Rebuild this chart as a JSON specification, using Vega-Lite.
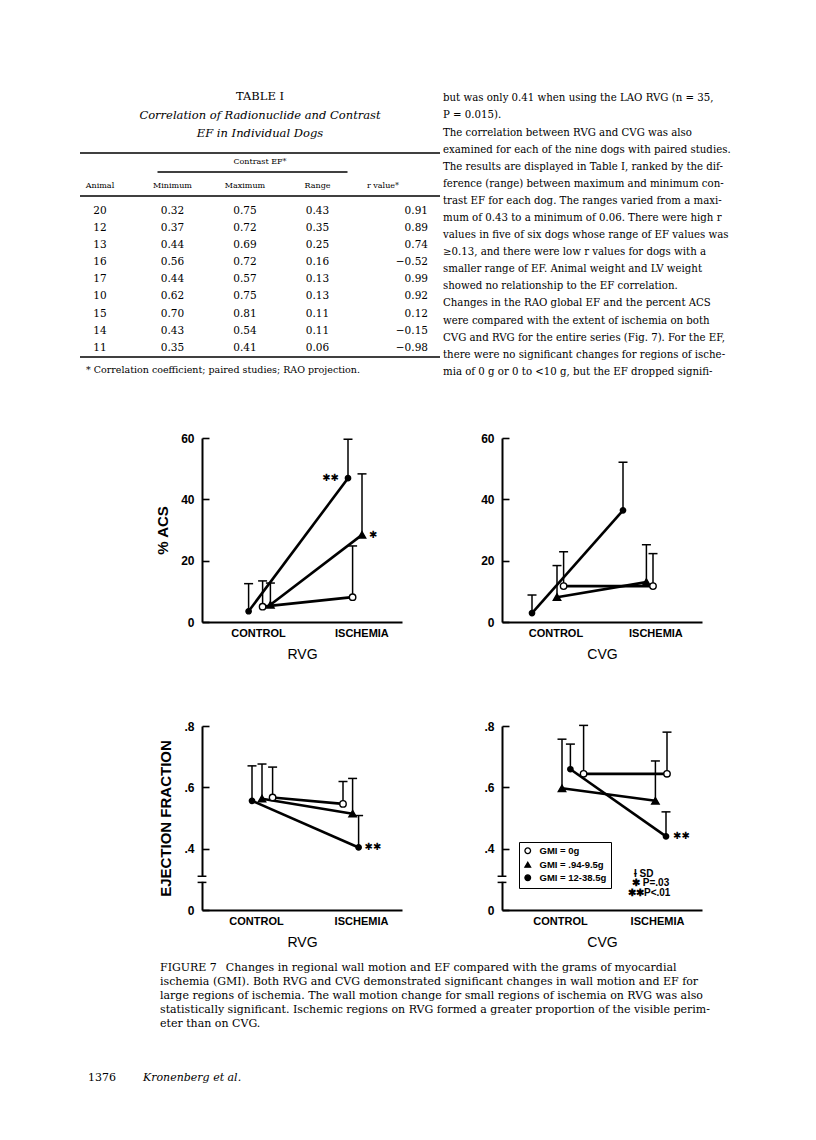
{
 "$schema": "https://vega.github.io/schema/vega-lite/v6.json",
 "background": "white",
 "padding": 0,
 "spacing": -6,
 "config": {
  "view": {"stroke": null},
  "text": {"font": "DejaVu Serif", "fontSize": 10.2, "color": "black", "baseline": "middle"},
  "rule": {"color": "black"},
  "axis": {"grid": false, "domainColor": "black", "domainWidth": 2, "tickColor": "black", "tickWidth": 1.6, "labelColor": "black", "titleColor": "black", "labelFont": "Liberation Sans", "titleFont": "Liberation Sans", "labelFontWeight": "bold", "labelFlush": false},
  "axisX": {"ticks": false, "labelFontSize": 11, "labelPadding": 5, "labelAngle": 0, "titleFontSize": 14, "titleFontWeight": "normal", "titlePadding": 9},
  "axisY": {"tickSize": -7, "labelFontSize": 12, "labelPadding": 15, "titleFontSize": 15, "titleFontWeight": "bold", "titlePadding": 10}
 },
 "datasets": {
  "para": [
   {"line": 1, "t": "but was only 0.41 when using the LAO RVG (n = 35,"},
   {"line": 2, "t": "P = 0.015)."},
   {"line": 3, "t": "\u2003The correlation between RVG and CVG was also"},
   {"line": 4, "t": "examined for each of the nine dogs with paired studies."},
   {"line": 5, "t": "The results are displayed in Table I, ranked by the dif-"},
   {"line": 6, "t": "ference (range) between maximum and minimum con-"},
   {"line": 7, "t": "trast EF for each dog. The ranges varied from a maxi-"},
   {"line": 8, "t": "mum of 0.43 to a minimum of 0.06. There were high r"},
   {"line": 9, "t": "values in five of six dogs whose range of EF values was"},
   {"line": 10, "t": "\u22650.13, and there were low r values for dogs with a"},
   {"line": 11, "t": "smaller range of EF. Animal weight and LV weight"},
   {"line": 12, "t": "showed no relationship to the EF correlation."},
   {"line": 13, "t": "\u2003Changes in the RAO global EF and the percent ACS"},
   {"line": 14, "t": "were compared with the extent of ischemia on both"},
   {"line": 15, "t": "CVG and RVG for the entire series (Fig. 7). For the EF,"},
   {"line": 16, "t": "there were no significant changes for regions of ische-"},
   {"line": 17, "t": "mia of 0 g or 0 to <10 g, but the EF dropped signifi-"}
  ],
  "tbl": [
   {"rank": 1, "animal": "20", "min": "0.32", "max": "0.75", "range": "0.43", "r": "0.91"},
   {"rank": 2, "animal": "12", "min": "0.37", "max": "0.72", "range": "0.35", "r": "0.89"},
   {"rank": 3, "animal": "13", "min": "0.44", "max": "0.69", "range": "0.25", "r": "0.74"},
   {"rank": 4, "animal": "16", "min": "0.56", "max": "0.72", "range": "0.16", "r": "\u22120.52"},
   {"rank": 5, "animal": "17", "min": "0.44", "max": "0.57", "range": "0.13", "r": "0.99"},
   {"rank": 6, "animal": "10", "min": "0.62", "max": "0.75", "range": "0.13", "r": "0.92"},
   {"rank": 7, "animal": "15", "min": "0.70", "max": "0.81", "range": "0.11", "r": "0.12"},
   {"rank": 8, "animal": "14", "min": "0.43", "max": "0.54", "range": "0.11", "r": "\u22120.15"},
   {"rank": 9, "animal": "11", "min": "0.35", "max": "0.41", "range": "0.06", "r": "\u22120.98"}
  ],
  "hdr": [
   {"col": "animal", "label": "Animal"},
   {"col": "min", "label": "Minimum"},
   {"col": "max", "label": "Maximum"},
   {"col": "range", "label": "Range"},
   {"col": "r", "label": "r value*"}
  ],
  "caption": [
   {"line": 1, "t": "FIGURE 7\u2002 Changes in regional wall motion and EF compared with the grams of myocardial"},
   {"line": 2, "t": "ischemia (GMI). Both RVG and CVG demonstrated significant changes in wall motion and EF for"},
   {"line": 3, "t": "large regions of ischemia. The wall motion change for small regions of ischemia on RVG was also"},
   {"line": 4, "t": "statistically significant. Ischemic regions on RVG formed a greater proportion of the visible perim-"},
   {"line": 5, "t": "eter than on CVG."}
  ],
  "pts": [
   {"panel": "A", "grp": "fill", "pos": 23.3, "v": 3.5, "hi": 12.5},
   {"panel": "A", "grp": "0g", "pos": 30.3, "v": 5.0, "hi": 13.4},
   {"panel": "A", "grp": "tri", "pos": 34.2, "v": 5.6, "hi": 12.7},
   {"panel": "A", "grp": "fill", "pos": 73, "v": 46.9, "hi": 59.6, "sig": "\u2731\u2731"},
   {"panel": "A", "grp": "0g", "pos": 75.3, "v": 8.1, "hi": 24.8},
   {"panel": "A", "grp": "tri", "pos": 80, "v": 28.4, "hi": 48.3, "sig": "\u2731"},
   {"panel": "B", "grp": "fill", "pos": 15, "v": 2.9, "hi": 8.8},
   {"panel": "B", "grp": "tri", "pos": 27.5, "v": 8.1, "hi": 18.4},
   {"panel": "B", "grp": "0g", "pos": 30.8, "v": 11.7, "hi": 22.9},
   {"panel": "B", "grp": "fill", "pos": 60.5, "v": 36.4, "hi": 52.1},
   {"panel": "B", "grp": "tri", "pos": 72.2, "v": 13.0, "hi": 25.2},
   {"panel": "B", "grp": "0g", "pos": 75.5, "v": 11.7, "hi": 22.3},
   {"panel": "C", "grp": "fill", "pos": 25, "v": 0.556, "hi": 0.670},
   {"panel": "C", "grp": "tri", "pos": 30, "v": 0.563, "hi": 0.676},
   {"panel": "C", "grp": "0g", "pos": 35.3, "v": 0.567, "hi": 0.666},
   {"panel": "C", "grp": "0g", "pos": 70.5, "v": 0.546, "hi": 0.619},
   {"panel": "C", "grp": "tri", "pos": 75.3, "v": 0.514, "hi": 0.629},
   {"panel": "C", "grp": "fill", "pos": 78.3, "v": 0.404, "hi": 0.508, "sig": "\u2731\u2731"},
   {"panel": "D", "grp": "tri", "pos": 30, "v": 0.597, "hi": 0.757},
   {"panel": "D", "grp": "fill", "pos": 34.2, "v": 0.659, "hi": 0.741},
   {"panel": "D", "grp": "0g", "pos": 40.8, "v": 0.644, "hi": 0.802},
   {"panel": "D", "grp": "tri", "pos": 76.7, "v": 0.556, "hi": 0.686},
   {"panel": "D", "grp": "fill", "pos": 82, "v": 0.44, "hi": 0.52, "sig": "\u2731\u2731"},
   {"panel": "D", "grp": "0g", "pos": 82.5, "v": 0.644, "hi": 0.78}
  ]
 },
 "resolve": {"scale": {"shape": "independent", "fill": "independent", "size": "independent", "stroke": "independent"}, "legend": {"shape": "independent", "fill": "independent", "size": "independent", "stroke": "independent"}},
 "vconcat": [
  {
   "spacing": 0,
   "bounds": "flush",
   "resolve": {"scale": {"shape": "independent", "fill": "independent", "size": "independent"}},
   "hconcat": [
    {"width": 80, "height": 438, "data": {"values": []}, "mark": "text", "encoding": {}},
    {
     "width": 360, "height": 438,
     "layer": [
      {"data": {"values": [{"t": "TABLE I"}]}, "mark": {"type": "text", "fontSize": 11.5},
       "encoding": {"y": {"datum": -5.667, "scale": {"domain": [-11.339, 14.275], "reverse": true, "nice": false, "zero": false}, "axis": null}, "text": {"field": "t"}}},
      {"data": {"values": [{"t": "Correlation of Radionuclide and Contrast"}]}, "mark": {"type": "text", "fontSize": 11.5, "fontStyle": "italic"},
       "encoding": {"y": {"datum": -4.556, "axis": null}, "text": {"field": "t"}}},
      {"data": {"values": [{"t": "EF in Individual Dogs"}]}, "mark": {"type": "text", "fontSize": 11.5, "fontStyle": "italic"},
       "encoding": {"y": {"datum": -3.503, "axis": null}, "text": {"field": "t"}}},
      {"data": {"values": [{}]}, "mark": {"type": "rule", "strokeWidth": 1.6},
       "encoding": {"y": {"datum": -2.392, "axis": null}}},
      {"data": {"values": [{"t": "Contrast EF*"}]}, "mark": {"type": "text", "fontSize": 8},
       "encoding": {"y": {"datum": -1.865, "axis": null}, "text": {"field": "t"}}},
      {"data": {"values": [{}]}, "mark": {"type": "rule", "strokeWidth": 1.3, "xOffset": -15, "x2Offset": 30},
       "encoding": {"x": {"datum": "min", "type": "nominal", "scale": {"type": "point", "domain": ["animal", "min", "max", "range", "r"], "range": [20, 310], "padding": 0}, "axis": null}, "x2": {"datum": "range"}, "y": {"datum": -1.281, "axis": null}}},
      {"data": {"name": "hdr"}, "transform": [{"filter": "datum.col != 'r'"}], "mark": {"type": "text", "fontSize": 8},
       "encoding": {"x": {"field": "col", "type": "nominal", "axis": null}, "y": {"datum": -0.462, "axis": null}, "text": {"field": "label"}}},
      {"data": {"name": "hdr"}, "transform": [{"filter": "datum.col == 'r'"}], "mark": {"type": "text", "fontSize": 8, "dx": -7},
       "encoding": {"x": {"field": "col", "type": "nominal", "axis": null}, "y": {"datum": -0.462, "axis": null}, "text": {"field": "label"}}},
      {"data": {"values": [{}]}, "mark": {"type": "rule", "strokeWidth": 1.3},
       "encoding": {"y": {"datum": 0.123, "axis": null}}},
      {"data": {"name": "tbl"}, "transform": [{"fold": ["animal", "min", "max", "range"], "as": ["col", "val"]}],
       "mark": {"type": "text", "fontSize": 10.5},
       "encoding": {"x": {"field": "col", "type": "nominal", "axis": null}, "y": {"field": "rank", "type": "quantitative", "axis": null}, "text": {"field": "val"}}},
      {"data": {"name": "tbl"}, "mark": {"type": "text", "fontSize": 10.5, "align": "right", "dx": 38},
       "encoding": {"x": {"datum": "r", "type": "nominal", "axis": null}, "y": {"field": "rank", "type": "quantitative", "axis": null}, "text": {"field": "r"}}},
      {"data": {"values": [{}]}, "mark": {"type": "rule", "strokeWidth": 1.6},
       "encoding": {"y": {"datum": 9.538, "axis": null}}},
      {"data": {"values": [{"t": "* Correlation coefficient; paired studies; RAO projection."}]}, "mark": {"type": "text", "fontSize": 9.5, "align": "left", "dx": -14},
       "encoding": {"x": {"datum": "animal", "type": "nominal", "axis": null}, "y": {"datum": 10.298, "axis": null}, "text": {"field": "t"}}}
     ]
    },
    {
     "width": 376, "height": 438,
     "data": {"name": "para"},
     "mark": {"type": "text", "align": "left"},
     "encoding": {
      "x": {"datum": 3, "scale": {"domain": [0, 376], "nice": false, "zero": false}, "axis": null},
      "y": {"field": "line", "type": "quantitative", "scale": {"domain": [-4.749, 20.866], "reverse": true, "nice": false, "zero": false}, "axis": null},
      "text": {"field": "t"}
     }
    }
   ]
  },
  {
   "spacing": 100,
   "bounds": "flush",
   "resolve": {"scale": {"shape": "independent", "fill": "independent", "size": "independent", "stroke": "independent"}, "legend": {"shape": "independent", "fill": "independent", "size": "independent", "stroke": "independent"}},
   "hconcat": [
    {"width": 102, "height": 288, "data": {"values": []}, "mark": "text", "encoding": {}},
    {
     "width": 200, "height": 184,
     "data": {"name": "pts"},
     "encoding": {"x": {"field": "pos", "type": "quantitative", "title": "RVG", "scale": {"domain": [0, 100], "nice": false, "zero": false}, "axis": {"values": [28, 79.7], "labelExpr": "datum.value < 50 ? 'CONTROL' : 'ISCHEMIA'"}}},
     "layer": [
      {"transform": [{"filter": "datum.panel == 'A'"}], "mark": {"type": "rule", "strokeWidth": 1.5, "color": "black"},
       "encoding": {"y": {"field": "v", "type": "quantitative", "title": "% ACS", "scale": {"domain": [0, 60], "nice": false, "zero": false}, "axis": {"values": [0, 20, 40, 60]}}, "y2": {"field": "hi"}}},
      {"transform": [{"filter": "datum.panel == 'A'"}], "mark": {"type": "tick", "orient": "horizontal", "size": 9, "thickness": 1.5, "color": "black", "opacity": 1},
       "encoding": {"y": {"field": "hi", "type": "quantitative", "title": "% ACS"}}},
      {"transform": [{"filter": "datum.panel == 'A'"}], "mark": {"type": "line", "strokeWidth": 2.6, "color": "black"},
       "encoding": {"y": {"field": "v", "type": "quantitative", "title": "% ACS"}, "detail": {"field": "grp"}, "order": {"field": "pos"}}},
      {"transform": [{"filter": "datum.panel == 'A'"}], "mark": {"type": "point", "stroke": "black", "strokeWidth": 1.4, "opacity": 1},
       "encoding": {
        "y": {"field": "v", "type": "quantitative", "title": "% ACS"},
        "shape": {"field": "grp", "type": "nominal", "scale": {"domain": ["0g", "tri", "fill"], "range": ["circle", "triangle-up", "circle"]}, "legend": null},
        "fill": {"field": "grp", "type": "nominal", "scale": {"domain": ["0g", "tri", "fill"], "range": ["white", "black", "black"]}, "legend": null},
        "size": {"field": "grp", "type": "ordinal", "scale": {"domain": ["tri", "0g", "fill"], "range": [55, 28, 28]}, "legend": null}}},
      {"transform": [{"filter": "datum.panel == 'A' && datum.grp == 'fill' && datum.sig"}],
       "mark": {"type": "text", "font": "DejaVu Sans", "fontSize": 10, "fontWeight": "bold", "align": "right", "dx": -9},
       "encoding": {"y": {"field": "v", "type": "quantitative", "title": "% ACS"}, "text": {"field": "sig"}}},
      {"transform": [{"filter": "datum.panel == 'A' && datum.grp == 'tri' && datum.sig"}],
       "mark": {"type": "text", "font": "DejaVu Sans", "fontSize": 10, "fontWeight": "bold", "align": "left", "dx": 7},
       "encoding": {"y": {"field": "v", "type": "quantitative", "title": "% ACS"}, "text": {"field": "sig"}}}
     ]
    },
    {
     "width": 200, "height": 184,
     "data": {"name": "pts"},
     "encoding": {"x": {"field": "pos", "type": "quantitative", "title": "CVG", "scale": {"domain": [0, 100], "nice": false, "zero": false}, "axis": {"values": [26.7, 76.7], "labelExpr": "datum.value < 50 ? 'CONTROL' : 'ISCHEMIA'"}}},
     "layer": [
      {"transform": [{"filter": "datum.panel == 'B'"}], "mark": {"type": "rule", "strokeWidth": 1.5, "color": "black"},
       "encoding": {"y": {"field": "v", "type": "quantitative", "title": null, "scale": {"domain": [0, 60], "nice": false, "zero": false}, "axis": {"values": [0, 20, 40, 60]}}, "y2": {"field": "hi"}}},
      {"transform": [{"filter": "datum.panel == 'B'"}], "mark": {"type": "tick", "orient": "horizontal", "size": 9, "thickness": 1.5, "color": "black", "opacity": 1},
       "encoding": {"y": {"field": "hi", "type": "quantitative", "title": null}}},
      {"transform": [{"filter": "datum.panel == 'B'"}], "mark": {"type": "line", "strokeWidth": 2.6, "color": "black"},
       "encoding": {"y": {"field": "v", "type": "quantitative", "title": null}, "detail": {"field": "grp"}, "order": {"field": "pos"}}},
      {"transform": [{"filter": "datum.panel == 'B'"}], "mark": {"type": "point", "stroke": "black", "strokeWidth": 1.4, "opacity": 1},
       "encoding": {
        "y": {"field": "v", "type": "quantitative", "title": null},
        "shape": {"field": "grp", "type": "nominal", "scale": {"domain": ["0g", "tri", "fill"], "range": ["circle", "triangle-up", "circle"]}, "legend": null},
        "fill": {"field": "grp", "type": "nominal", "scale": {"domain": ["0g", "tri", "fill"], "range": ["white", "black", "black"]}, "legend": null},
        "size": {"field": "grp", "type": "ordinal", "scale": {"domain": ["tri", "0g", "fill"], "range": [55, 28, 28]}, "legend": null}}}
     ]
    }
   ]
  },
  {
   "spacing": 100,
   "bounds": "flush",
   "resolve": {"scale": {"shape": "independent", "fill": "independent", "size": "independent", "stroke": "independent"}, "legend": {"shape": "independent", "fill": "independent", "size": "independent", "stroke": "independent"}},
   "hconcat": [
    {"width": 102, "height": 230, "data": {"values": []}, "mark": "text", "encoding": {}},
    {
     "width": 200, "height": 184,
     "data": {"name": "pts"},
     "encoding": {"x": {"field": "pos", "type": "quantitative", "title": "RVG", "scale": {"domain": [0, 100], "nice": false, "zero": false}, "axis": {"values": [27, 79.5], "labelExpr": "datum.value < 50 ? 'CONTROL' : 'ISCHEMIA'"}}},
     "layer": [
      {"transform": [{"filter": "datum.panel == 'C'"}], "mark": {"type": "rule", "strokeWidth": 1.5, "color": "black"},
       "encoding": {"y": {"field": "v", "type": "quantitative", "title": "EJECTION FRACTION", "scale": {"domain": [0.2, 0.8], "nice": false, "zero": false}, "axis": {"values": [0.2, 0.4, 0.6, 0.8], "labelExpr": "datum.value < 0.3 ? '0' : replace(format(datum.value, '.1f'), '0.', '.')"}}, "y2": {"field": "hi"}}},
      {"transform": [{"filter": "datum.panel == 'C'"}], "mark": {"type": "tick", "orient": "horizontal", "size": 9, "thickness": 1.5, "color": "black", "opacity": 1},
       "encoding": {"y": {"field": "hi", "type": "quantitative", "title": "EJECTION FRACTION"}}},
      {"transform": [{"filter": "datum.panel == 'C'"}], "mark": {"type": "line", "strokeWidth": 2.6, "color": "black"},
       "encoding": {"y": {"field": "v", "type": "quantitative", "title": "EJECTION FRACTION"}, "detail": {"field": "grp"}, "order": {"field": "pos"}}},
      {"transform": [{"filter": "datum.panel == 'C'"}], "mark": {"type": "point", "stroke": "black", "strokeWidth": 1.4, "opacity": 1},
       "encoding": {
        "y": {"field": "v", "type": "quantitative", "title": "EJECTION FRACTION"},
        "shape": {"field": "grp", "type": "nominal", "scale": {"domain": ["0g", "tri", "fill"], "range": ["circle", "triangle-up", "circle"]}, "legend": null},
        "fill": {"field": "grp", "type": "nominal", "scale": {"domain": ["0g", "tri", "fill"], "range": ["white", "black", "black"]}, "legend": null},
        "size": {"field": "grp", "type": "ordinal", "scale": {"domain": ["tri", "0g", "fill"], "range": [55, 28, 28]}, "legend": null}}},
      {"transform": [{"filter": "datum.panel == 'C' && datum.sig"}],
       "mark": {"type": "text", "font": "DejaVu Sans", "fontSize": 10, "fontWeight": "bold", "align": "left", "dx": 6},
       "encoding": {"y": {"field": "v", "type": "quantitative", "title": "EJECTION FRACTION"}, "text": {"field": "sig"}}},
      {"transform": [{"filter": "datum.panel == 'C' && datum.sig"}], "mark": {"type": "rect", "color": "white"},
       "encoding": {"x": {"datum": -1.5}, "x2": {"datum": 1.5}, "y": {"datum": 0.292}, "y2": {"datum": 0.308}}},
      {"transform": [{"filter": "datum.panel == 'C' && datum.sig"}], "mark": {"type": "rule", "strokeWidth": 1.5},
       "encoding": {"x": {"datum": -2.2}, "x2": {"datum": 2.2}, "y": {"datum": 0.31}}},
      {"transform": [{"filter": "datum.panel == 'C' && datum.sig"}], "mark": {"type": "rule", "strokeWidth": 1.5},
       "encoding": {"x": {"datum": -2.2}, "x2": {"datum": 2.2}, "y": {"datum": 0.29}}}
     ]
    },
    {
     "width": 200, "height": 184,
     "data": {"name": "pts"},
     "encoding": {"x": {"field": "pos", "type": "quantitative", "title": "CVG", "scale": {"domain": [0, 100], "nice": false, "zero": false}, "axis": {"values": [29, 77.5], "labelExpr": "datum.value < 50 ? 'CONTROL' : 'ISCHEMIA'"}}},
     "layer": [
      {"transform": [{"filter": "datum.panel == 'D'"}], "mark": {"type": "rule", "strokeWidth": 1.5, "color": "black"},
       "encoding": {"y": {"field": "v", "type": "quantitative", "title": null, "scale": {"domain": [0.2, 0.8], "nice": false, "zero": false}, "axis": {"values": [0.2, 0.4, 0.6, 0.8], "labelExpr": "datum.value < 0.3 ? '0' : replace(format(datum.value, '.1f'), '0.', '.')"}}, "y2": {"field": "hi"}}},
      {"transform": [{"filter": "datum.panel == 'D'"}], "mark": {"type": "tick", "orient": "horizontal", "size": 9, "thickness": 1.5, "color": "black", "opacity": 1},
       "encoding": {"y": {"field": "hi", "type": "quantitative", "title": null}}},
      {"transform": [{"filter": "datum.panel == 'D'"}], "mark": {"type": "line", "strokeWidth": 2.6, "color": "black"},
       "encoding": {"y": {"field": "v", "type": "quantitative", "title": null}, "detail": {"field": "grp"}, "order": {"field": "pos"}}},
      {"transform": [{"filter": "datum.panel == 'D'"}], "mark": {"type": "point", "strokeWidth": 1.4, "opacity": 1},
       "encoding": {
        "y": {"field": "v", "type": "quantitative", "title": null},
        "shape": {"field": "grp", "type": "nominal", "scale": {"domain": ["0g", "tri", "fill"], "range": ["circle", "triangle-up", "circle"]},
         "legend": {"orient": "none", "legendX": 17, "legendY": 116, "title": null, "labelExpr": "datum.label == '0g' ? 'GMI = 0g' : datum.label == 'tri' ? 'GMI = .94-9.5g' : 'GMI = 12-38.5g'", "strokeColor": "black", "padding": 4, "rowPadding": 2, "labelFont": "Liberation Sans", "labelFontWeight": "bold", "labelFontSize": 9.5, "labelColor": "black", "symbolSize": 32, "symbolStrokeWidth": 1.3, "labelOffset": 7}},
        "fill": {"field": "grp", "type": "nominal", "scale": {"domain": ["0g", "tri", "fill"], "range": ["white", "black", "black"]},
         "legend": {"orient": "none", "legendX": 17, "legendY": 116, "title": null, "labelExpr": "datum.label == '0g' ? 'GMI = 0g' : datum.label == 'tri' ? 'GMI = .94-9.5g' : 'GMI = 12-38.5g'", "strokeColor": "black", "padding": 4, "rowPadding": 2, "labelFont": "Liberation Sans", "labelFontWeight": "bold", "labelFontSize": 9.5, "labelColor": "black", "symbolSize": 32, "symbolStrokeWidth": 1.3, "labelOffset": 7}},
        "stroke": {"field": "grp", "type": "nominal", "scale": {"domain": ["0g", "tri", "fill"], "range": ["black", "black", "black"]},
         "legend": {"orient": "none", "legendX": 17, "legendY": 116, "title": null, "labelExpr": "datum.label == '0g' ? 'GMI = 0g' : datum.label == 'tri' ? 'GMI = .94-9.5g' : 'GMI = 12-38.5g'", "strokeColor": "black", "padding": 4, "rowPadding": 2, "labelFont": "Liberation Sans", "labelFontWeight": "bold", "labelFontSize": 9.5, "labelColor": "black", "symbolSize": 32, "symbolStrokeWidth": 1.3, "labelOffset": 7}},
        "size": {"field": "grp", "type": "ordinal", "scale": {"domain": ["tri", "0g", "fill"], "range": [55, 28, 28]}, "legend": null}}},
      {"transform": [{"filter": "datum.panel == 'D' && datum.sig"}],
       "mark": {"type": "text", "font": "DejaVu Sans", "fontSize": 10, "fontWeight": "bold", "align": "left", "dx": 7},
       "encoding": {"y": {"field": "v", "type": "quantitative", "title": null}, "text": {"field": "sig"}}},
      {"transform": [{"filter": "datum.panel == 'D' && datum.sig"}], "mark": {"type": "rect", "color": "white"},
       "encoding": {"x": {"datum": -1.5}, "x2": {"datum": 1.5}, "y": {"datum": 0.292}, "y2": {"datum": 0.308}}},
      {"transform": [{"filter": "datum.panel == 'D' && datum.sig"}], "mark": {"type": "rule", "strokeWidth": 1.5},
       "encoding": {"x": {"datum": -2.2}, "x2": {"datum": 2.2}, "y": {"datum": 0.31}}},
      {"transform": [{"filter": "datum.panel == 'D' && datum.sig"}], "mark": {"type": "rule", "strokeWidth": 1.5},
       "encoding": {"x": {"datum": -2.2}, "x2": {"datum": 2.2}, "y": {"datum": 0.29}}},
      {"transform": [{"filter": "datum.panel == 'D' && datum.sig"}], "mark": {"type": "text", "font": "Liberation Sans", "fontWeight": "bold", "fontSize": 10, "align": "left"},
       "encoding": {"x": {"datum": 66}, "y": {"datum": 0.319}, "text": {"value": "\u0197 SD"}}},
      {"transform": [{"filter": "datum.panel == 'D' && datum.sig"}], "mark": {"type": "text", "font": "Liberation Sans", "fontWeight": "bold", "fontSize": 10, "align": "left"},
       "encoding": {"x": {"datum": 65}, "y": {"datum": 0.2866}, "text": {"value": "\u2731 P=.03"}}},
      {"transform": [{"filter": "datum.panel == 'D' && datum.sig"}], "mark": {"type": "text", "font": "Liberation Sans", "fontWeight": "bold", "fontSize": 10, "align": "left"},
       "encoding": {"x": {"datum": 63}, "y": {"datum": 0.254}, "text": {"value": "\u2731\u2731P<.01"}}}
     ]
    }
   ]
  },
  {
   "width": 816, "height": 190,
   "layer": [
    {"data": {"name": "caption"}, "mark": {"type": "text", "align": "left", "fontSize": 11},
     "encoding": {
      "x": {"datum": 160, "scale": {"domain": [0, 816], "nice": false, "zero": false}, "axis": null},
      "y": {"field": "line", "type": "quantitative", "scale": {"domain": [0.1429, 13.714], "reverse": true, "nice": false, "zero": false}, "axis": null},
      "text": {"field": "t"}}},
    {"data": {"values": [{"t": "1376"}]}, "mark": {"type": "text", "align": "left", "fontSize": 11},
     "encoding": {"x": {"datum": 88, "axis": null}, "y": {"datum": 8.857, "axis": null}, "text": {"field": "t"}}},
    {"data": {"values": [{"t": "Kronenberg et al."}]}, "mark": {"type": "text", "align": "left", "fontSize": 11, "fontStyle": "italic"},
     "encoding": {"x": {"datum": 143, "axis": null}, "y": {"datum": 8.857, "axis": null}, "text": {"field": "t"}}}
   ]
  }
 ]
}
